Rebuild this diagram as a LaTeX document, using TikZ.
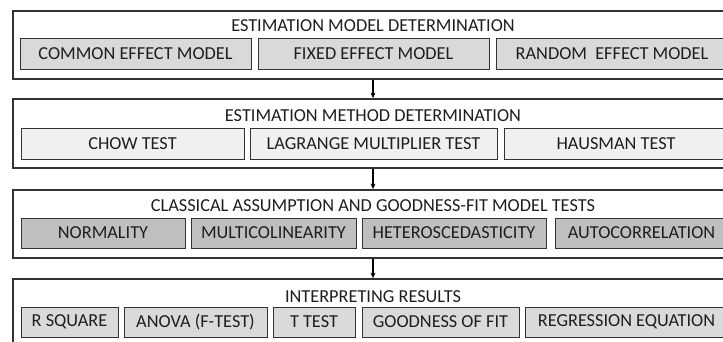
\documentclass[tikz,border=0pt]{standalone}
\usepackage{fontspec}
\setmainfont{Carlito}
\usetikzlibrary{arrows.meta}
\definecolor{edge}{HTML}{333333}
\definecolor{fillA}{HTML}{D9D9D9}
\definecolor{fillB}{HTML}{F0F0F0}
\definecolor{fillC}{HTML}{BFBFBF}
\definecolor{fillD}{HTML}{DADADA}
\definecolor{txt}{HTML}{1E1E1E}
\tikzset{
  obox/.style={draw=edge, line width=1.8pt, fill=white, inner sep=0pt},
  ibox/.style={draw=edge, line width=1pt, inner sep=0pt, text=txt,
    font=\fontsize{18.3}{22}\selectfont},
  ttl/.style={inner sep=0pt, text=txt, font=\fontsize{18.3}{22}\selectfont},
  arr/.style={draw=black, line width=1.1pt, -{Stealth[length=5.5pt,width=5pt]}}
}
\begin{document}
\begin{tikzpicture}[x=1pt,y=-1pt]
\useasboundingbox (0,0) rectangle (723,341);
\clip (0,0) rectangle (723,341);
% outer boxes
\node[obox, minimum width=720pt, minimum height=68pt] (b1) at (373,45) {};
\node[obox, minimum width=720pt, minimum height=69pt] (b2) at (373,133.5) {};
\node[obox, minimum width=720pt, minimum height=68pt] (b3) at (373,224) {};
\node[obox, minimum width=720pt, minimum height=72pt] (b4) at (373,315) {};
% titles
\node[ttl] (t1) at (373,26) {ESTIMATION MODEL DETERMINATION};
\node[ttl] (t2) at (373,115.5) {ESTIMATION METHOD DETERMINATION};
\node[ttl] (t3) at (373,206) {CLASSICAL ASSUMPTION AND GOODNESS-FIT MODEL TESTS};
\node[ttl] (t4) at (373,296.5) {INTERPRETING RESULTS};
% row 1
\node[ibox, fill=fillA, minimum width=231pt, minimum height=31pt] (r1a) at (135.5,53.5) {COMMON EFFECT MODEL};
\node[ibox, fill=fillA, minimum width=231pt, minimum height=31pt] (r1b) at (373.5,53.5) {FIXED EFFECT MODEL};
\node[ibox, fill=fillA, minimum width=232pt, minimum height=31pt] (r1c) at (612,53.5) {RANDOM\ \ EFFECT MODEL};
% row 2
\node[ibox, fill=fillB, minimum width=223pt, minimum height=31pt] (r2a) at (132.5,143.5) {CHOW TEST};
\node[ibox, fill=fillB, minimum width=247pt, minimum height=31pt] (r2b) at (373.5,143.5) {LAGRANGE MULTIPLIER TEST};
\node[ibox, fill=fillB, minimum width=224pt, minimum height=31pt] (r2c) at (616,143.5) {HAUSMAN TEST};
% row 3
\node[ibox, fill=fillC, minimum width=164pt, minimum height=30pt] (r3a) at (103,233) {NORMALITY};
\node[ibox, fill=fillC, minimum width=165pt, minimum height=30pt] (r3b) at (273.5,233) {MULTICOLINEARITY};
\node[ibox, fill=fillC, minimum width=184pt, minimum height=30pt] (r3c) at (454,233) {HETEROSCEDASTICITY};
\node[ibox, fill=fillC, minimum width=173pt, minimum height=30pt] (r3d) at (641.5,233) {AUTOCORRELATION};
% row 4
\node[ibox, fill=fillD, minimum width=97pt, minimum height=30pt] (r4a) at (69.5,322) {R SQUARE};
\node[ibox, fill=fillD, minimum width=143pt, minimum height=30pt] (r4b) at (195.5,322) {ANOVA (F-TEST)};
\node[ibox, fill=fillD, minimum width=82pt, minimum height=30pt] (r4c) at (314,322) {T TEST};
\node[ibox, fill=fillD, minimum width=157pt, minimum height=30pt] (r4d) at (440.5,322) {GOODNESS OF FIT};
\node[ibox, fill=fillD, minimum width=203pt, minimum height=30pt] (r4e) at (626.5,322) {REGRESSION EQUATION};
% arrows
\draw[arr] (b1.south) -- (b2.north);
\draw[arr] (b2.south) -- (b3.north);
\draw[arr] (b3.south) -- (b4.north);
\end{tikzpicture}
\end{document}
